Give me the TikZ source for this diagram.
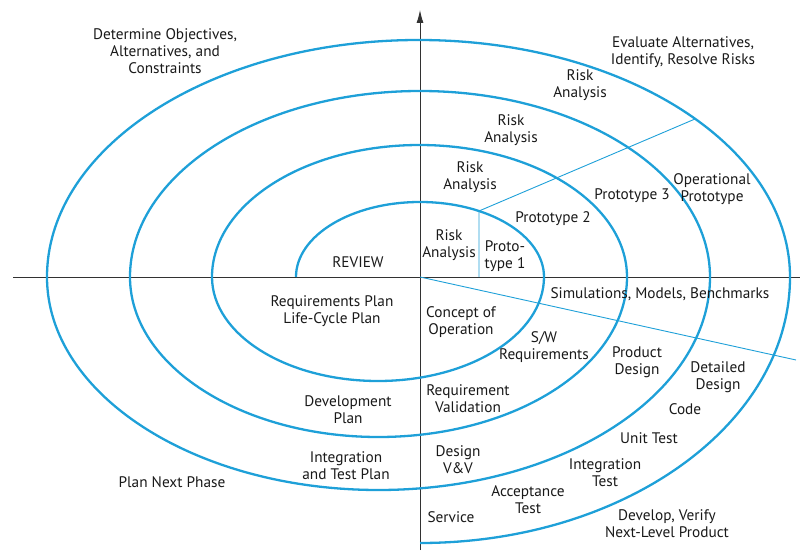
\documentclass[tikz,border=0pt]{standalone}
\usepackage{fontspec}
\setmainfont{PT Sans}
\usetikzlibrary{arrows.meta}
\definecolor{spiral}{RGB}{30,160,216}
\definecolor{axisc}{RGB}{50,50,50}
\definecolor{txt}{RGB}{25,25,25}
\tikzset{
  spiralline/.style={draw=spiral,line width=2.3pt},
  divider/.style={draw=spiral,line width=0.9pt},
  axisline/.style={draw=axisc,line width=0.9pt},
  lbl/.style={font=\fontsize{15.3}{16.8}\selectfont,text=txt,align=center,inner sep=0pt},
}
\begin{document}
\begin{tikzpicture}[x=1pt,y=1pt]
\useasboundingbox (0,0) rectangle (804,550);
% axes
\coordinate (hl) at (13,273);
\coordinate (hr) at (800,273);
\coordinate (vb) at (420,0);
\coordinate (vt) at (420,540);
\draw[axisline] (hl) -- (hr);
\draw[axisline,-{Latex[length=13pt,width=7pt]}] (vb) -- (vt);
% spiral
\coordinate (s0) at (296,273);
\draw[spiralline] (s0)
  arc[start angle=180,end angle=0,x radius=124,y radius=75]
  arc[start angle=0,end angle=-180,x radius=166,y radius=104]
  arc[start angle=180,end angle=0,x radius=207.5,y radius=132]
  arc[start angle=0,end angle=-180,x radius=248.5,y radius=160]
  arc[start angle=180,end angle=0,x radius=290,y radius=186]
  arc[start angle=0,end angle=-180,x radius=331.5,y radius=213]
  arc[start angle=180,end angle=0,x radius=371.5,y radius=237]
  arc[start angle=0,end angle=-90,x radius=370,y radius=266];
% dividers
\coordinate (p1b) at (479,273);
\coordinate (p1t) at (479,339);
\coordinate (p3e) at (695,431);
\coordinate (o) at (420,273);
\coordinate (se) at (796,190);
\draw[divider] (p1b) -- (p1t) -- (p3e);
\draw[divider] (o) -- (se);
% labels
\node[lbl] (det) at (165,499) {Determine Objectives,\\Alternatives, and\\Constraints};
\node[lbl] (eva) at (683,498) {Evaluate Alternatives,\\Identify, Resolve Risks};
\node[lbl] (ra4) at (580,465) {Risk\\Analysis};
\node[lbl] (ra3) at (511,420) {Risk\\Analysis};
\node[lbl] (ra2) at (470,373) {Risk\\Analysis};
\node[lbl] (ra1) at (449,305) {Risk\\Analysis};
\node[lbl] (pt1) at (505,294) {Proto-\\type 1};
\node[lbl] (pt2) at (553,331) {Prototype 2};
\node[lbl] (pt3) at (632,354) {Prototype 3};
\node[lbl] (opp) at (712,361) {Operational\\Prototype};
\node[lbl] (rev) at (358,288) {REVIEW};
\node[lbl] (sim) at (660,256) {Simulations, Models, Benchmarks};
\node[lbl] (rpl) at (332,239) {Requirements Plan\\Life-Cycle Plan};
\node[lbl] (coo) at (461,228) {Concept of\\Operation};
\node[lbl] (swr) at (544,203) {S/W\\Requirements};
\node[lbl] (prd) at (637,188) {Product\\Design};
\node[lbl] (dtd) at (718,173) {Detailed\\Design};
\node[lbl] (cod) at (685,141) {Code};
\node[lbl] (unt) at (649,112) {Unit Test};
\node[lbl] (itt) at (605,77) {Integration\\Test};
\node[lbl] (act) at (528,50) {Acceptance\\Test};
\node[lbl] (srv) at (451,33) {Service};
\node[lbl] (dev) at (667,26) {Develop, Verify\\Next-Level Product};
\node[lbl] (dvv) at (458,90) {Design\\V\&V};
\node[lbl] (rqv) at (468,151) {Requirement\\Validation};
\node[lbl] (dpl) at (348,140) {Development\\Plan};
\node[lbl] (itp) at (346,84) {Integration\\and Test Plan};
\node[lbl] (pnp) at (172,68) {Plan Next Phase};
\end{tikzpicture}
\end{document}
